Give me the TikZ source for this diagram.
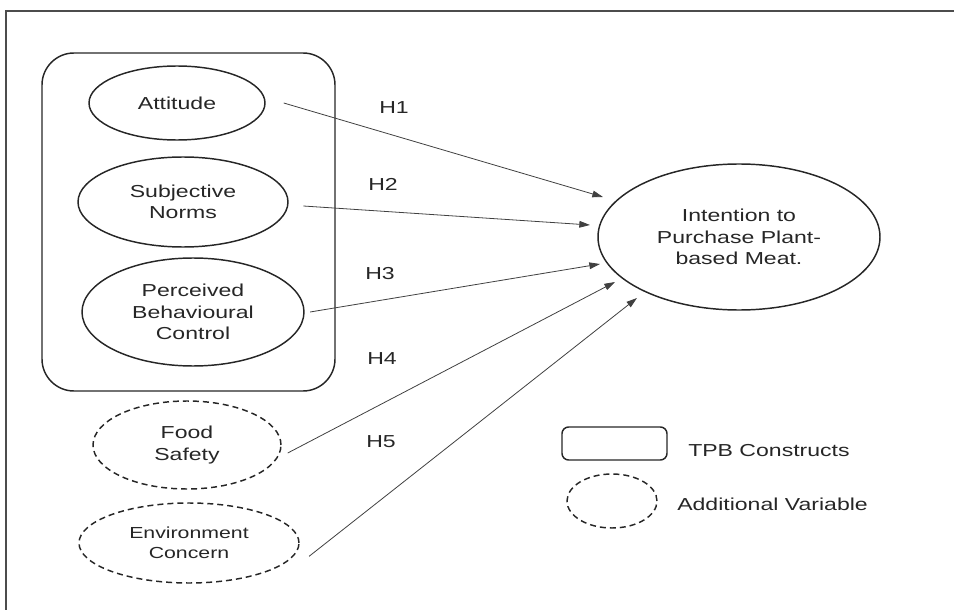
\documentclass[tikz,border=0pt]{standalone}
\usepackage{fontspec}
\setmainfont{Liberation Sans}[FakeStretch=1.33]
\usetikzlibrary{shapes.geometric,arrows.meta}

\tikzset{
  construct/.style={draw=black!85, ellipse, line width=1.1pt, inner sep=0pt, align=center},
  extra/.style={construct, dash pattern=on 4.5pt off 3pt},
  hyp/.style={draw=black!75, line width=0.6pt, -{Triangle[length=8pt,width=5pt]}},
  label/.style={inner sep=0pt}
}

\begin{document}
\begin{tikzpicture}[x=0.75pt,y=0.75pt,yscale=-1,xscale=1,font=\fontsize{13}{16}\selectfont,text=black!85]
\useasboundingbox (0,0) rectangle (954,610);

%Frame
\draw [black!70, line width=1.5pt] (954,11) -- (6,11) -- (6,610) ;

%Shape: Rounded Rect (TPB constructs)
\draw [black!85, line width=1.1pt, rounded corners=24pt] (42,53) rectangle (335,391) ;

%Shape: Ellipse
\node [construct, minimum width=132pt, minimum height=55.5pt] (att) at (177,103) {Attitude};
%Shape: Ellipse
\node [construct, minimum width=157.5pt, minimum height=67.5pt] (sn) at (183,202) {Subjective\\Norms};
%Shape: Ellipse
\node [construct, minimum width=166.5pt, minimum height=81pt] (pbc) at (193,312) {Perceived\\Behavioural\\Control};
%Shape: Ellipse
\node [extra, minimum width=141pt, minimum height=66pt] (fs) at (187,445) {Food\\Safety};
%Shape: Ellipse
\node [extra, minimum width=165pt, minimum height=60pt, font=\fontsize{12}{15}\selectfont] (ec) at (189,543) {Environment\\Concern};
%Shape: Ellipse
\node [construct, minimum width=211.5pt, minimum height=109.5pt] (pi) at (739,237) {Intention to\\Purchase Plant-\\based Meat.};

%Arrow tips
\coordinate (t1) at (603,197);
\coordinate (t2) at (590,225);
\coordinate (t3) at (600,264);
\coordinate (t4) at (615,282);
\coordinate (t5) at (637,298);

%Straight Lines
\draw [hyp] ([xshift=13.5pt]att.east) -- (t1) ;
\draw [hyp] ([xshift=11pt,yshift=3pt]sn.east) -- (t2) ;
\draw [hyp] ([xshift=4pt]pbc.east) -- (t3) ;
\draw [hyp] ([xshift=4.5pt,yshift=6pt]fs.east) -- (t4) ;
\draw [hyp] ([xshift=7pt,yshift=10pt]ec.east) -- (t5) ;

% Text Node
\node [label] (h1) at (394,108) {H1};
% Text Node
\node [label] (h2) at (383,184) {H2};
% Text Node
\node [label] (h3) at (380,274) {H3};
% Text Node
\node [label] (h4) at (382,359) {H4};
% Text Node
\node [label] (h5) at (381,442) {H5};

%Legend
\draw [black!85, line width=1.1pt, rounded corners=5pt] (562,427) rectangle (667,460) ;
\node [extra, minimum width=67.5pt, minimum height=40.5pt] (key) at (612,501) {};
% Text Node
\node [label, anchor=west] (tpb) at (688,451) {TPB Constructs};
% Text Node
\node [label, anchor=west] (add) at (677,504) {Additional Variable};

\end{tikzpicture}
\end{document}
